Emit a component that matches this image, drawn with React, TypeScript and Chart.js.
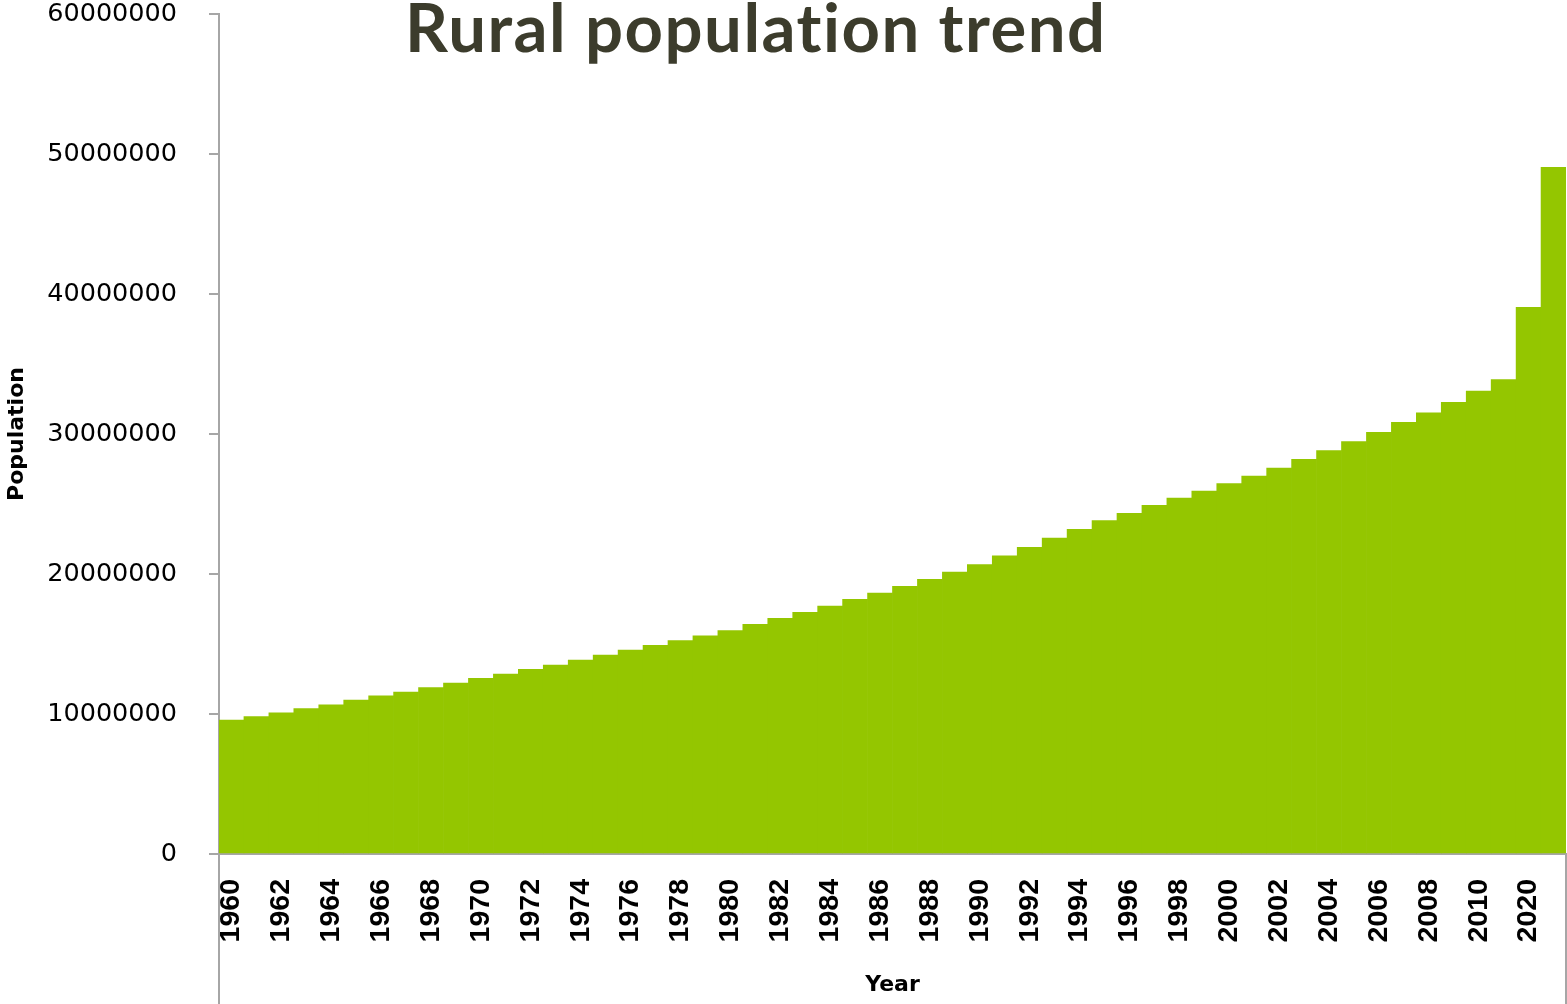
import React, { useEffect, useRef } from "react";
import { Chart, registerables } from "chart.js";

Chart.register(...registerables);

// Census years shown on the category axis
const years: string[] = [
  "1960", "1961", "1962", "1963", "1964", "1965", "1966", "1967", "1968", "1969",
  "1970", "1971", "1972", "1973", "1974", "1975", "1976", "1977", "1978", "1979",
  "1980", "1981", "1982", "1983", "1984", "1985", "1986", "1987", "1988", "1989",
  "1990", "1991", "1992", "1993", "1994", "1995", "1996", "1997", "1998", "1999",
  "2000", "2001", "2002", "2003", "2004", "2005", "2006", "2007", "2008", "2009",
  "2010", "2011", "2020", "2030",
];

// Rural population per year
const ruralPopulation: number[] = [
  9570000, 9810000, 10090000, 10380000, 10660000, 11000000, 11290000, 11570000, 11880000, 12210000,
  12550000, 12860000, 13190000, 13500000, 13860000, 14210000, 14570000, 14910000, 15240000, 15590000,
  15950000, 16410000, 16830000, 17260000, 17710000, 18190000, 18640000, 19120000, 19620000, 20140000,
  20670000, 21290000, 21900000, 22570000, 23190000, 23810000, 24330000, 24900000, 25430000, 25930000,
  26450000, 27000000, 27570000, 28190000, 28810000, 29450000, 30120000, 30830000, 31520000, 32260000,
  33070000, 33880000, 39050000, 49050000,
];

const yTickValues: number[] = [0, 10000000, 20000000, 30000000, 40000000, 50000000, 60000000];

const chartTitle = "Rural population trend";
const xTitle = "Year";
const yTitle = "Population";

const BAR_COLOR = "#94c600";
const AXIS_COLOR = "#a6a6a6";
const Y_TICK_FONT = { family: "'DejaVu Sans', sans-serif", size: 25.5 };
const X_TICK_FONT = { family: "'Liberation Sans', Arial, sans-serif", size: 28.5, weight: "bold" as const };
const TITLE_FONT = { family: "'DejaVu Sans', sans-serif", size: 22, weight: "bold" as const };

// Extends the axis frame below the plot: vertical rules at both ends of the category axis
const categoryFramePlugin = {
  id: "categoryFrame",
  afterDraw(chart: any) {
    const x = chart.scales.x;
    const { ctx } = chart;
    const top = chart.chartArea.bottom;
    const bottom = chart.height;
    ctx.save();
    ctx.strokeStyle = AXIS_COLOR;
    ctx.lineWidth = 2;
    ctx.beginPath();
    ctx.moveTo(x.left, top);
    ctx.lineTo(x.left, bottom);
    ctx.moveTo(x.right, top);
    ctx.lineTo(x.right, bottom);
    ctx.stroke();
    ctx.restore();
  },
};

const clearScalePadding = (scale: any) => {
  scale.paddingTop = 0;
  scale.paddingBottom = 0;
  scale.paddingLeft = 0;
  scale.paddingRight = 0;
};

export default function App() {
  const canvasRef = useRef<HTMLCanvasElement | null>(null);

  useEffect(() => {
    document.body.style.margin = "0";
    const canvas = canvasRef.current;
    if (!canvas) return;

    const chart = new Chart(canvas, {
      type: "bar",
      data: {
        labels: years,
        datasets: [
          {
            label: yTitle,
            data: ruralPopulation,
            backgroundColor: BAR_COLOR,
            borderWidth: 0,
            categoryPercentage: 1,
            barPercentage: 1,
          },
        ],
      },
      options: {
        responsive: false,
        animation: false,
        layout: { padding: { top: 14, right: 1, left: 0, bottom: 0 } },
        plugins: {
          legend: { display: false },
          tooltip: { enabled: false },
          title: { display: false },
        },
        scales: {
          x: {
            type: "category",
            grid: { display: false },
            border: { display: true, color: AXIS_COLOR, width: 2 },
            ticks: {
              autoSkip: false,
              minRotation: 90,
              maxRotation: 90,
              padding: 17,
              color: "#000",
              font: X_TICK_FONT,
              callback: (_v: any, i: number) => (i % 2 === 0 ? years[i] : ""),
            },
            title: {
              display: true,
              text: xTitle,
              color: "#000",
              font: TITLE_FONT,
              padding: { top: 4, bottom: 6 },
            },
            afterFit: (scale: any) => {
              scale.height = 150;
              clearScalePadding(scale);
            },
          },
          y: {
            min: 0,
            max: 60000000,
            afterBuildTicks: (scale: any) => {
              scale.ticks = yTickValues.map((v) => ({ value: v }));
            },
            grid: {
              display: true,
              drawOnChartArea: false,
              drawTicks: true,
              tickLength: 10,
              color: AXIS_COLOR,
              lineWidth: 2,
            },
            border: { display: true, color: AXIS_COLOR, width: 2 },
            ticks: {
              padding: 32,
              color: "#000",
              font: Y_TICK_FONT,
              callback: (v: any) => String(v),
            },
            title: {
              display: true,
              text: yTitle,
              color: "#000",
              font: TITLE_FONT,
              padding: { top: 4, bottom: 4 },
            },
            afterFit: (scale: any) => {
              scale.width = 219;
              clearScalePadding(scale);
            },
          },
        },
      },
      plugins: [categoryFramePlugin],
    });

    return () => chart.destroy();
  }, []);

  return (
    <div style={{ position: "relative", width: 1567, height: 1004, overflow: "hidden", background: "#fff" }}>
      <canvas ref={canvasRef} width={1567} height={1004} style={{ display: "block" }} />
      <div
        style={{
          position: "absolute",
          left: 405,
          top: -7,
          fontFamily: "Lato, 'Open Sans', sans-serif",
          fontWeight: 700,
          fontSize: 67,
          letterSpacing: "1.5px",
          fontVariantLigatures: "none",
          lineHeight: 1,
          color: "#3c3c2c",
          whiteSpace: "nowrap",
        }}
      >
        {chartTitle}
      </div>
    </div>
  );
}
